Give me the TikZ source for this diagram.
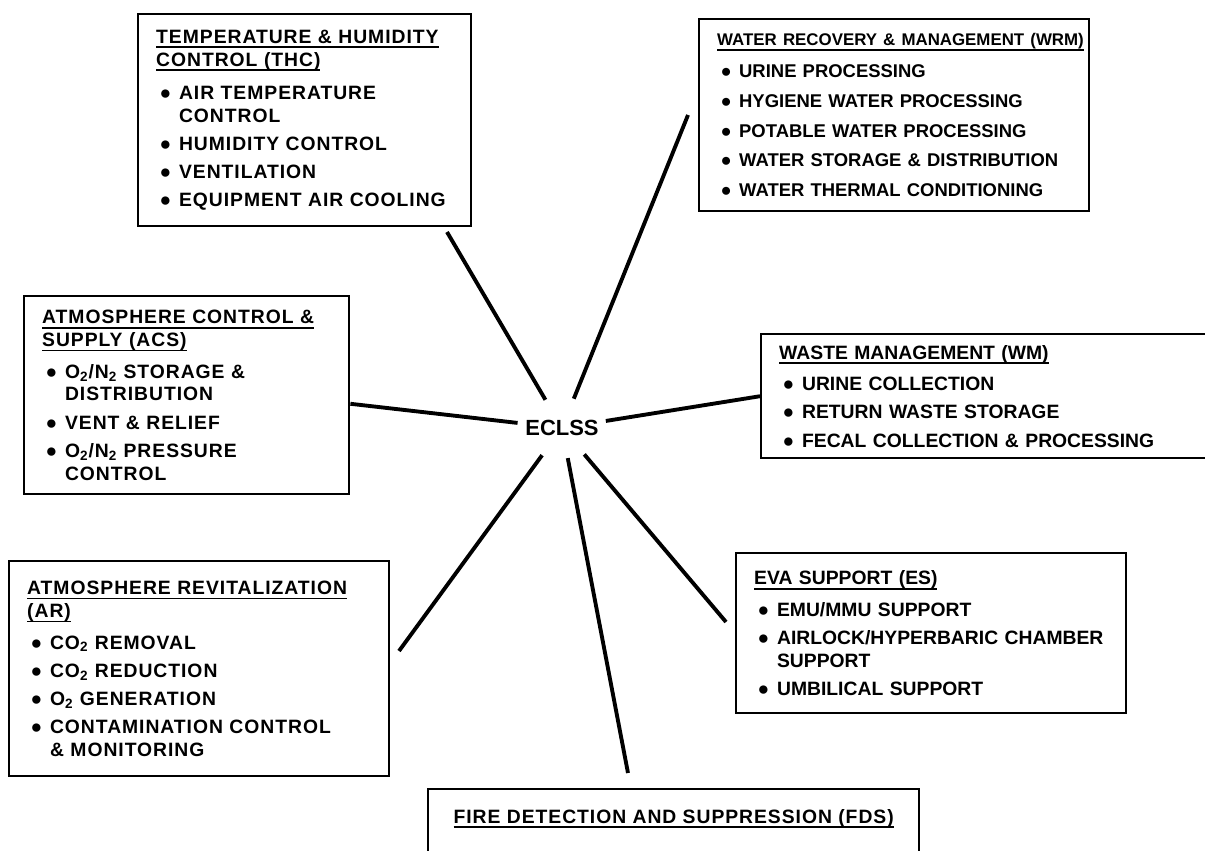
\documentclass[tikz,border=0pt]{standalone}
\usepackage{fontspec}
\setmainfont{Liberation Sans}
\newfontfamily\spaced[LetterSpace=5.0]{Liberation Sans}
\usetikzlibrary{shapes.geometric}
\newcommand{\pxl}{0.02cm}
\newcommand{\bul}{\hspace*{2pt}\makebox[1.0em][l]{●}}
\newcommand{\ind}{\hspace*{2pt}\hspace*{1.0em}}
\newcommand{\hd}[1]{\leavevmode\setbox0\hbox{#1}\rlap{\rule[-2.8pt]{\wd0}{1pt}}\box0}

\begin{document}
\begin{tikzpicture}[x=\pxl, y=-\pxl,
    box/.style={draw, rectangle, line width=1.4pt, anchor=north west, align=left, inner xsep=0.36cm, inner ysep=0pt, font=\bfseries\fontsize{11}{13}\selectfont, execute at begin node={\hyphenpenalty=10000}},
    wide/.style={font=\spaced\bfseries\fontsize{11}{13}\selectfont},
    hub/.style={ellipse, inner xsep=-0.1cm, inner ysep=0pt, minimum height=1.2cm, font=\bfseries\fontsize{12.5}{14}\selectfont},
    link/.style={line width=2.2pt}]
    \useasboundingbox (0,0) rectangle (1205,851);

    % Centre
    \node[hub] (eclss) at (562,428) {ECLSS};

    % Left column
    \node[box, wide, minimum width=6.66cm, minimum height=4.24cm, text width=5.94cm] (thc) at (137,13) {\hd{TEMPERATURE \& HUMIDITY}\\
        \hd{CONTROL (THC)}\\[6pt]
        \bul AIR TEMPERATURE\\
        \ind CONTROL\\[3pt]
        \bul HUMIDITY CONTROL\\[3pt]
        \bul VENTILATION\\[3pt]
        \bul EQUIPMENT AIR COOLING};
    \node[box, wide, minimum width=6.50cm, minimum height=3.96cm, text width=5.78cm] (acs) at (23,295) {\hd{ATMOSPHERE CONTROL \&}\\
        \hd{SUPPLY (ACS)}\\[5pt]
        \bul O\textsubscript{2}/N\textsubscript{2} STORAGE \&\\
        \ind DISTRIBUTION\\[3pt]
        \bul VENT \& RELIEF\\[3pt]
        \bul O\textsubscript{2}/N\textsubscript{2} PRESSURE\\
        \ind CONTROL};
    \node[box, wide, minimum width=7.60cm, minimum height=4.30cm, text width=6.88cm] (ar) at (8,560) {\hd{ATMOSPHERE REVITALIZATION}\\
        \hd{(AR)}\\[5pt]
        \bul CO\textsubscript{2} REMOVAL\\[3pt]
        \bul CO\textsubscript{2} REDUCTION\\[3pt]
        \bul O\textsubscript{2} GENERATION\\[3pt]
        \bul CONTAMINATION CONTROL\\
        \ind \& MONITORING};

    % Right column
    \node[box, minimum width=7.80cm, minimum height=3.84cm, text width=7.08cm, font=\bfseries\fontsize{10.5}{13}\selectfont] (wrm) at (698,18) {\hd{\fontsize{9.6}{13}\selectfont WATER RECOVERY \& MANAGEMENT (WRM)}\\[5pt]
        \bul URINE PROCESSING\\[4pt]
        \bul HYGIENE WATER PROCESSING\\[4pt]
        \bul POTABLE WATER PROCESSING\\[4pt]
        \bul WATER STORAGE \& DISTRIBUTION\\[4pt]
        \bul WATER THERMAL CONDITIONING};
    \node[box, minimum width=9.20cm, minimum height=2.48cm, text width=8.48cm] (wm) at (760,333) {\hd{WASTE MANAGEMENT (WM)}\\[5pt]
        \bul URINE COLLECTION\\[3pt]
        \bul RETURN WASTE STORAGE\\[3pt]
        \bul FECAL COLLECTION \& PROCESSING};
    \node[box, minimum width=7.80cm, minimum height=3.20cm, text width=7.08cm] (es) at (735,552) {\hd{EVA SUPPORT (ES)}\\[5pt]
        \bul EMU/MMU SUPPORT\\[3pt]
        \bul AIRLOCK/HYPERBARIC CHAMBER\\
        \ind SUPPORT\\[3pt]
        \bul UMBILICAL SUPPORT};

    % Bottom
    \node[box, wide, minimum width=9.82cm, inner ysep=0.4cm, text height=8pt, text depth=60pt] (fds) at (427,788) {\hd{FIRE DETECTION AND SUPPRESSION (FDS)}};

    % Spokes
    \coordinate (thc-end) at (447,232);
    \coordinate (wrm-end) at (688,115);
    \coordinate (ar-end) at (399,651);
    \coordinate (es-end) at (726,622);
    \coordinate (fds-end) at (628,773);
    \draw[link] (eclss) -- (thc-end);
    \draw[link] (eclss) -- (wrm-end);
    \draw[link] (eclss) -- (acs.-3);
    \draw[link] (eclss) -- (wm.west);
    \draw[link] (eclss) -- (ar-end);
    \draw[link] (eclss) -- (fds-end);
    \draw[link] (eclss) -- (es-end);

\end{tikzpicture}
\end{document}
